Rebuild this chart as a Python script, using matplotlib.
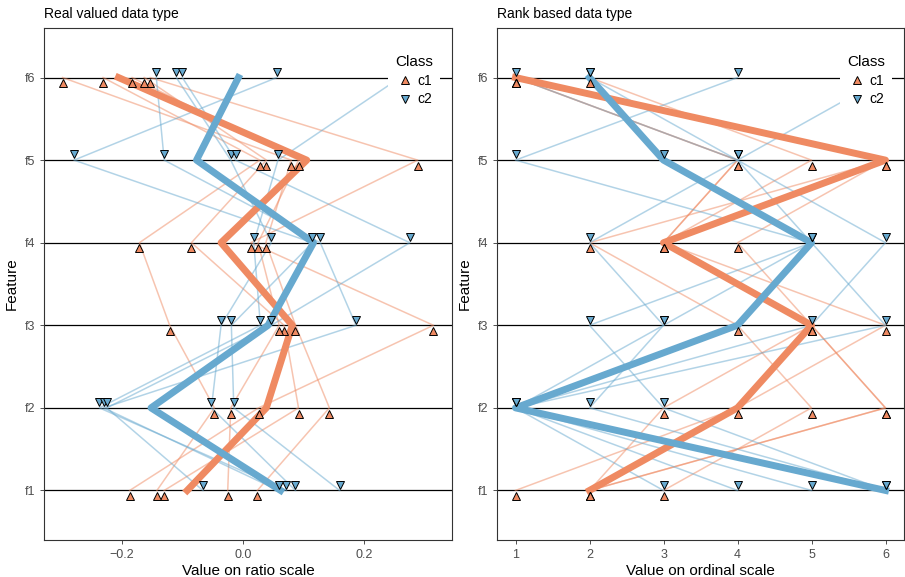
import numpy as np
import matplotlib.pyplot as plt
from matplotlib.lines import Line2D

plt.rcParams['font.family'] = ['Liberation Sans', 'DejaVu Sans']

features = ['f1', 'f2', 'f3', 'f4', 'f5', 'f6']
classes = ['c1', 'c2']

# ratio scale values, one row per sample, columns f1..f6
c1_values = np.array([
    [-0.187, 0.026, 0.315, 0.013, 0.289, -0.153],
    [-0.130, 0.092, 0.068, -0.085, 0.039, -0.163],
    [0.024, 0.143, 0.087, 0.038, 0.080, -0.298],
    [-0.025, -0.020, 0.060, 0.025, 0.092, -0.183],
    [-0.142, -0.047, -0.121, -0.171, 0.028, -0.231],
])
c2_values = np.array([
    [0.072, -0.237, 0.029, 0.018, 0.058, 0.260],
    [0.087, -0.052, -0.036, 0.047, -0.020, -0.110],
    [0.160, -0.015, -0.019, 0.115, -0.279, 0.056],
    [0.059, -0.230, 0.187, 0.128, -0.130, -0.143],
    [-0.066, -0.225, 0.047, 0.276, -0.012, -0.100],
])

# ordinal scale (rank of each feature within a sample)
c1_ranks = np.array([
    [1, 4, 6, 3, 5, 2],
    [2, 6, 5, 3, 4, 1],
    [2, 6, 5, 3, 4, 1],
    [2, 3, 5, 4, 6, 1],
    [3, 5, 4, 2, 6, 1],
])
c2_ranks = np.array([
    [5, 1, 3, 2, 4, 6],
    [6, 2, 3, 5, 4, 1],
    [6, 3, 2, 5, 1, 4],
    [4, 1, 6, 5, 3, 2],
    [3, 1, 5, 6, 4, 2],
])
c1_rank_profile = [2, 4, 5, 3, 6, 1]
c2_rank_profile = [6, 1, 4, 5, 3, 2]

orange = '#EF8A62'
blue = '#67A9CF'
grey_txt = '#4D4D4D'
msize = 6


def draw_panel(ax, v1, v2, prof1, prof2, title, xlabel):
    y = np.arange(1, len(features) + 1)
    for yy in y:
        ax.axhline(yy, color='black', lw=0.9, zorder=1)

    # one thin line per sample
    for row in v1:
        ax.plot(row, y, color=orange, alpha=0.5, lw=1.1, zorder=2)
    for row in v2:
        ax.plot(row, y, color=blue, alpha=0.5, lw=1.1, zorder=2)

    # class profiles
    ax.plot(prof1, y, color=orange, lw=5, zorder=3)
    ax.plot(prof2, y, color=blue, lw=5, zorder=3)

    # points, nudged off the feature line
    ax.plot(v1.ravel(), np.tile(y, len(v1)) - 0.07, ls='none', marker='^', ms=msize,
            mfc=orange, mec='black', mew=0.7, zorder=4)
    ax.plot(v2.ravel(), np.tile(y, len(v2)) + 0.07, ls='none', marker='v', ms=msize,
            mfc=blue, mec='black', mew=0.7, zorder=4)

    ax.set_ylim(0.4, len(features) + 0.6)
    ax.set_yticks(y)
    ax.set_yticklabels(features)
    ax.set_ylabel('Feature', fontsize=11)
    ax.set_xlabel(xlabel, fontsize=11, labelpad=2)
    ax.set_title(title, loc='left', fontsize=10, pad=7)
    ax.tick_params(colors='#333333', labelcolor=grey_txt, labelsize=9, length=3, width=0.6)
    for s in ax.spines.values():
        s.set_color('#333333')
        s.set_linewidth(0.8)

    handles = [
        Line2D([], [], ls='none', marker='^', ms=5.5, mfc=orange, mec='black', mew=0.7),
        Line2D([], [], ls='none', marker='v', ms=5.5, mfc=blue, mec='black', mew=0.7),
    ]
    leg = ax.legend(handles, classes, title='Class', loc='upper right',
                    bbox_to_anchor=(0.988, 0.975), fontsize=10, title_fontsize=11,
                    frameon=True, fancybox=False, handletextpad=0.3, labelspacing=0.35,
                    borderpad=0.5, handlelength=1.2)
    leg.get_frame().set_facecolor('white')
    leg.get_frame().set_edgecolor('none')
    leg.get_frame().set_alpha(1)
    leg.set_zorder(10)


fig = plt.figure(figsize=(9.05, 5.77), dpi=100)
ax1 = fig.add_axes([44 / 905, 1 - 540 / 577, 408 / 905, 512 / 577])
ax2 = fig.add_axes([497 / 905, 1 - 540 / 577, 407 / 905, 512 / 577])

draw_panel(ax1, c1_values, c2_values, c1_values.mean(axis=0), c2_values.mean(axis=0),
           'Real valued data type', 'Value on ratio scale')
lo, hi = min(c1_values.min(), c2_values.min()), max(c1_values.max(), c2_values.max())
pad = 0.05 * (hi - lo)
ax1.set_xlim(lo - pad, hi + pad)
ax1.set_xticks([-0.2, 0.0, 0.2])
ax1.set_xticklabels(['\u22120.2', '0.0', '0.2'])

draw_panel(ax2, c1_ranks, c2_ranks, c1_rank_profile, c2_rank_profile,
           'Rank based data type', 'Value on ordinal scale')
ax2.set_xlim(0.75, 6.25)
ax2.set_xticks(range(1, 7))

fig.savefig('out.png', dpi=100)
